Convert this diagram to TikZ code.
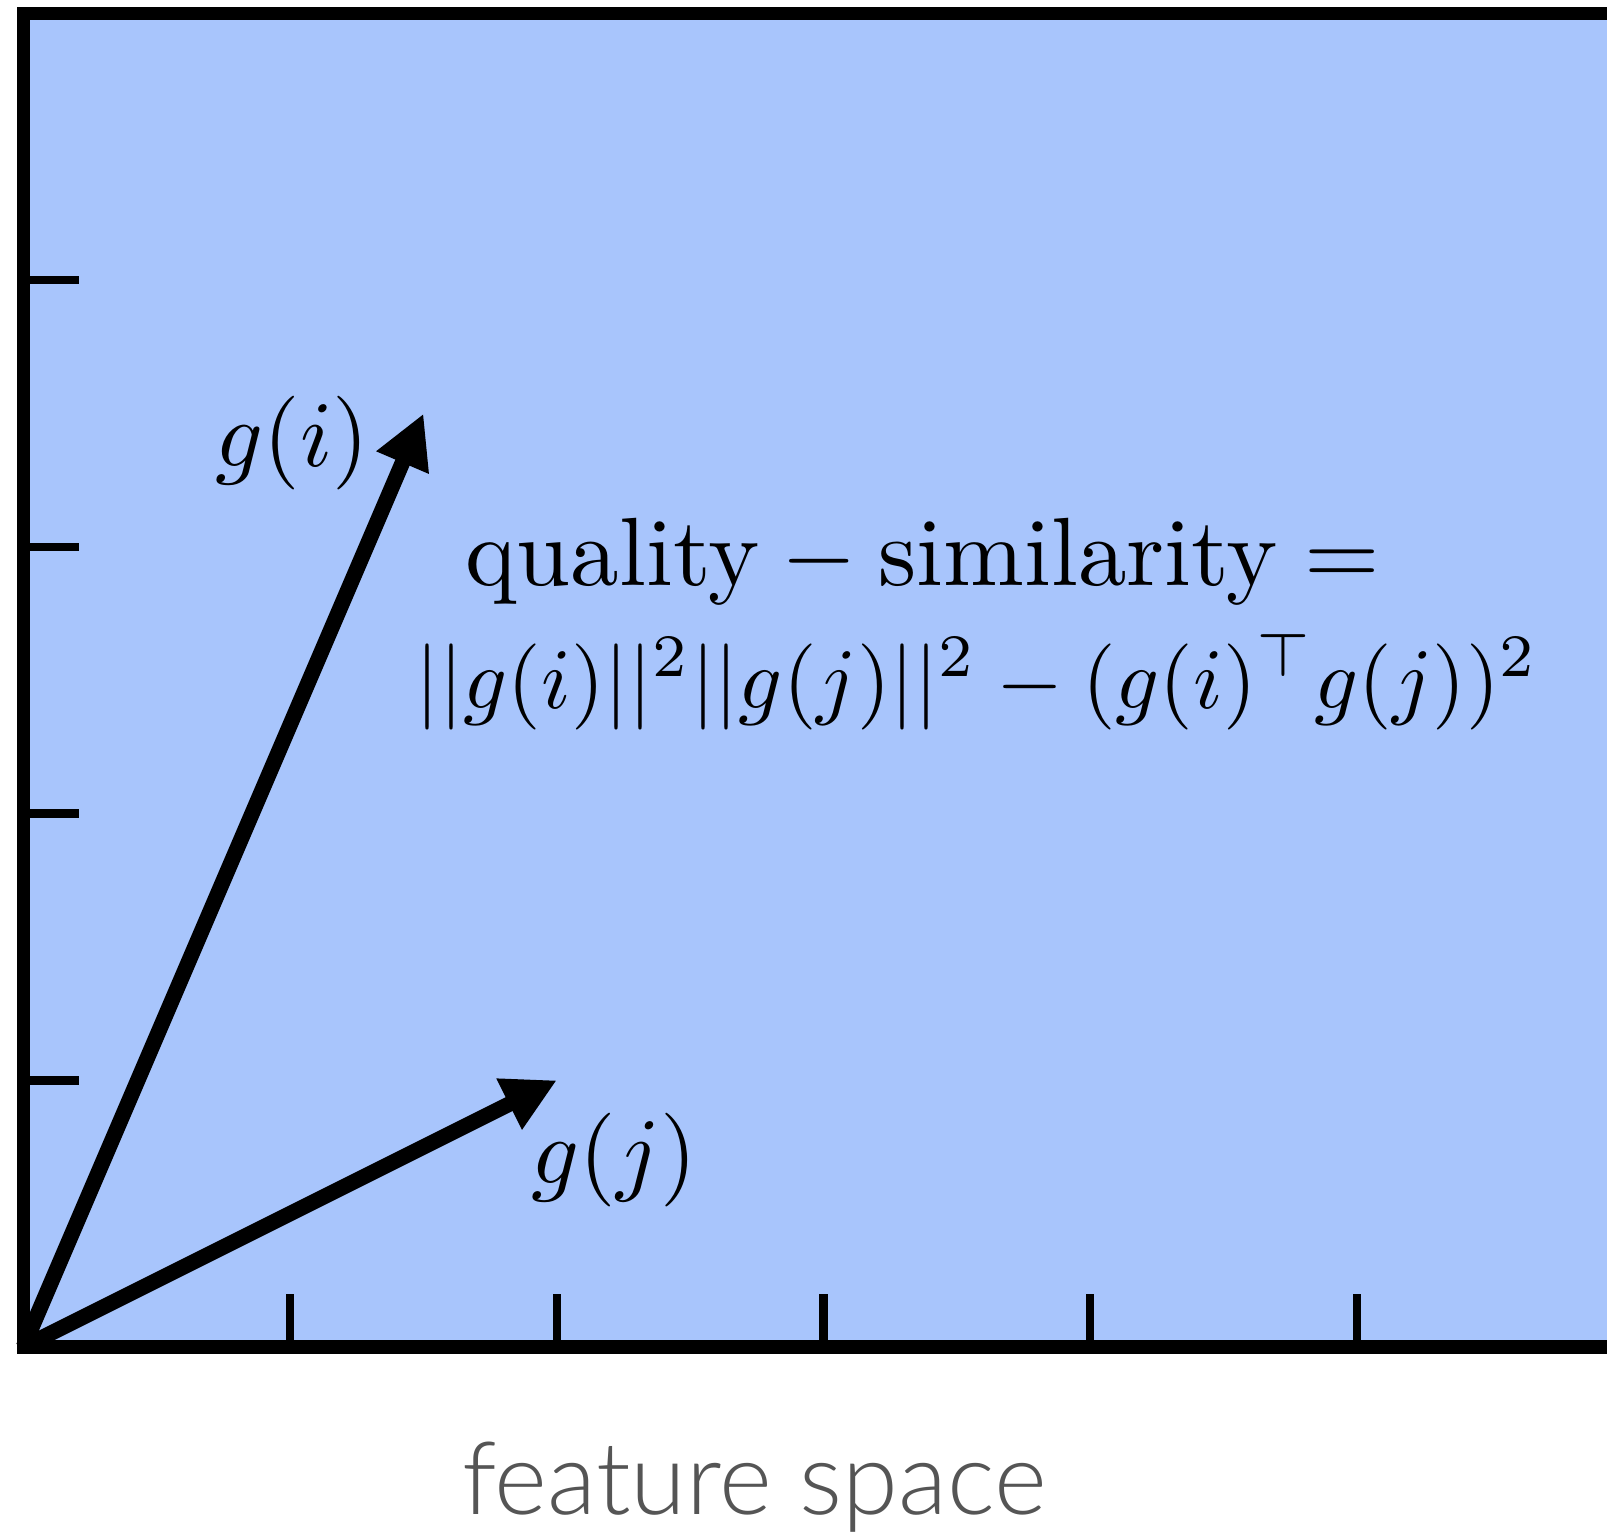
\documentclass[tikz,border=0pt]{standalone}
\usepackage{amsmath}
\usepackage{fontspec}
\newfontfamily\axisfont{Lato Light}
\newfontfamily\tenrm{lmroman10-regular}[Extension=.otf]
\usetikzlibrary{arrows.meta}
\definecolor{spacefill}{RGB}{168,197,252}
\definecolor{axisgray}{RGB}{85,85,85}
\tikzset{
  plot/.style={x=2cm,y=2cm,>={Triangle[length=0.4cm,width=0.4cm]}},
  spacebox/.style={draw=black,line width=2.9pt,fill=spacefill},
  tickmark/.style={line width=1.8pt},
  vec/.style={->,line width=3.3pt},
  vlabel/.style={inner sep=0pt,anchor=base west},
  formula/.style={inner sep=0pt,anchor=base west},
  axislabel/.style={inner sep=0pt,anchor=base,text=axisgray,font=\axisfont\fontsize{21.6}{26}\selectfont},
}

\begin{document}
\begin{tikzpicture}[plot]
\useasboundingbox (-0.0881,-0.7125) rectangle (5.938,5.051);
\clip (-0.0881,-0.7125) rectangle (5.938,5.051);
% feature space box, open to the right
\draw[spacebox] (0,0) rectangle (6.5,5);
\foreach \k in {1,...,4} {
  \draw[tickmark] (0,\k) -- (0.21,\k);
}
\foreach \k in {1,...,5} {
  \draw[tickmark] (\k,0) -- (\k,0.2);
}
% the two feature vectors
\coordinate (origin) at (0,0);
\coordinate (gi) at (1.5,3.5);
\coordinate (gj) at (2,1);
\draw[vec] (origin) -- (gi);
\draw[vec] (origin) -- (gj);
\node[vlabel] (gilabel) at (0.718,3.303) {\scalebox{2.0}{$g(i)$}};
\node[vlabel] (gjlabel) at (1.903,0.613) {\scalebox{2.0}{$g(j)$}};
\node[formula] (qsline) at (1.655,2.857)
  {\scalebox{2.07}{$\text{\tenrm quality} - \text{\tenrm similarity} =$}};
\node[formula] (normline) at (1.468,2.396)
  {\scalebox{1.838}{$||g(i)||^2||g(j)||^2 - (g(i)^\top g(j))^2$}};
\node[axislabel] (fslabel) at (2.742,-0.630) {feature space};
\end{tikzpicture}
\end{document}
